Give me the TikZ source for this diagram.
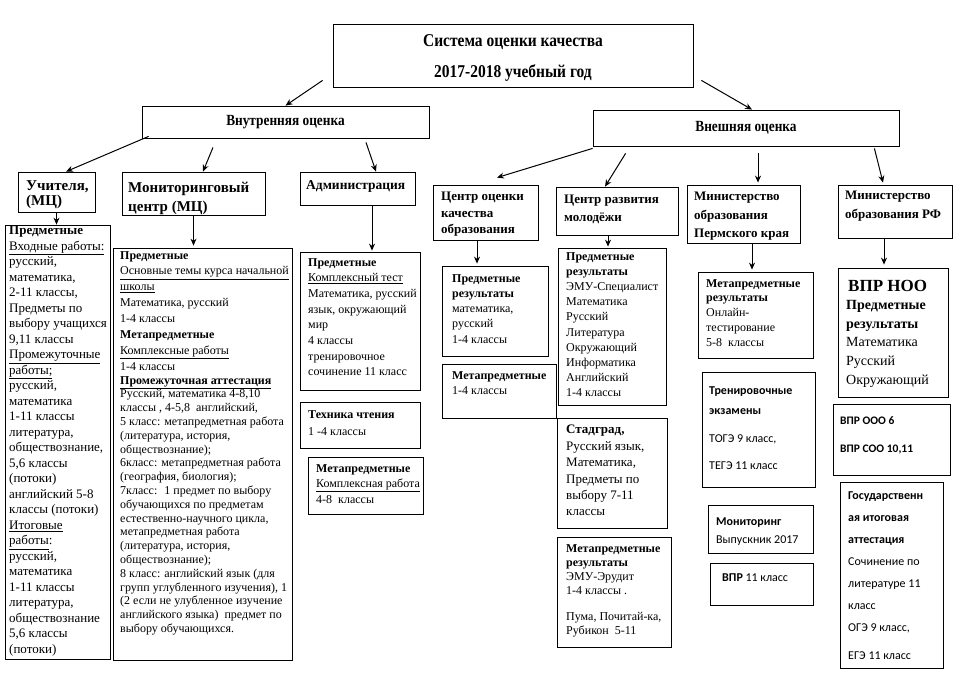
\documentclass[tikz,border=0pt]{standalone}
\usepackage{fontspec}
\setmainfont{Liberation Serif}
\newfontfamily\calib{Carlito}
\newfontfamily\condf[FakeStretch=0.86]{Liberation Serif}
\usetikzlibrary{fit,calc,arrows.meta}
\begin{document}
\begin{tikzpicture}[x=1pt,y=-1pt,
  bx/.style={draw=black,line width=0.8pt,inner sep=0pt},
  tx/.style={anchor=north west,inner sep=0pt,align=left},
  hd/.style={tx,font=\bfseries\fontsize{13}{#1}\selectfont},
  tf/.style={tx,font=\fontsize{12}{#1}\selectfont},
  cf/.style={tx,font=\calib\fontsize{12}{#1}\selectfont},
  arr/.style={-{Stealth[length=7pt,width=6pt]},line width=1pt}]
\useasboundingbox (0,0) rectangle (960,672);
\fill[white] (0,0) rectangle (960,672);
% boxes
\node[bx,fit={(333,24)(693,87)}] (title) {};
\node[bx,fit={(142,106)(429,138)}] (inner) {};
\node[bx,fit={(593,110)(899,146)}] (outer) {};
\node[bx,fit={(18,172)(95,212)}] (teach) {};
\node[bx,fit={(5,225)(110,659)}] (teachb) {};
\node[bx,fit={(122,172)(265,215)}] (mc) {};
\node[bx,fit={(113,248)(292,660)}] (mcb) {};
\node[bx,fit={(300,172)(415,205)}] (adm) {};
\node[bx,fit={(300,252)(420,390)}] (adm1) {};
\node[bx,fit={(300,402)(420,448)}] (adm2) {};
\node[bx,fit={(308,457)(423,514)}] (adm3) {};
\node[bx,fit={(433,185)(538,240)}] (coc) {};
\node[bx,fit={(442,266)(548,356)}] (coc1) {};
\node[bx,fit={(442,364)(556,418)}] (coc2) {};
\node[bx,fit={(556,187)(678,235)}] (crm) {};
\node[bx,fit={(558,248)(666,405)}] (crm1) {};
\node[bx,fit={(557,418)(667,528)}] (crm2) {};
\node[bx,fit={(557,537)(671,647)}] (crm3) {};
\node[bx,fit={(687,185)(800,243)}] (mpk) {};
\node[bx,fit={(698,272)(813,358)}] (mpk1) {};
\node[bx,fit={(702,372)(815,487)}] (mpk2) {};
\node[bx,fit={(708,505)(813,553)}] (mpk3) {};
\node[bx,fit={(710,563)(813,605)}] (mpk4) {};
\node[bx,fit={(838,185)(952,238)}] (mrf) {};
\node[bx,fit={(838,268)(948,397)}] (mrf1) {};
\node[bx,fit={(833,404)(950,475)}] (mrf2) {};
\node[bx,fit={(840,482)(943,668)}] (mrf3) {};
% texts
\node[font=\condf\bfseries\fontsize{18}{20}\selectfont] (tt1) at (513,42) {Система оценки качества};
\node[font=\condf\bfseries\fontsize{18}{20}\selectfont] (tt2) at (513,73) {2017-2018 учебный год};
\node[font=\condf\bfseries\fontsize{15.5}{18}\selectfont] (innert) at (inner.center) {Внутренняя оценка};
\node[font=\condf\bfseries\fontsize{15.5}{18}\selectfont] (outert) at (outer.center) {Внешняя оценка};
\node[tx,font=\bfseries\fontsize{15}{15}\selectfont] (teacht) at (26,180) {Учителя,\\(МЦ)};
\node[tx,font=\fontsize{13}{15.5}\selectfont] (teachbt) at (9,226) {\textbf{Предметные}\\\underline{Входные работы:}\\русский,\\математика,\\2-11 классы,\\Предметы по\\выбору учащихся\\9,11 классы\\\underline{Промежуточные}\\\underline{работы;}\\русский,\\математика\\1-11 классы\\литература,\\обществознание,\\5,6 классы\\(потоки)\\английский 5-8\\классы (потоки)\\\underline{Итоговые}\\\underline{работы}:\\русский,\\математика\\1-11 классы\\литература,\\обществознание\\5,6 классы\\(потоки)};
\node[tx,font=\bfseries\fontsize{15}{19}\selectfont] (mct) at (128,182) {Мониторинговый\\центр (МЦ)};
\node[tf=15.9] (mcbt1) at (120,251) {\textbf{Предметные}\\\underline{Основные темы курса начальной}\\\underline{школы}\\Математика, русский\\1-4 классы\\\textbf{Метапредметные}\\\underline{Комплексные работы}\\1-4 классы};
\node[tf=13.8] (mcbt2) at (120,376) {\textbf{\underline{Промежуточная аттестация}}\\Русский, математика 4-8,10\\классы , 4-5,8 \ английский,\\5 класс: метапредметная работа\\(литература, история,\\обществознание);\\6класс: метапредметная работа\\(география, биология);\\7класс: \ 1 предмет по выбору\\обучающихся по предметам\\естественно-научного цикла,\\метапредметная работа\\(литература, история,\\обществознание);\\8 класс: английский язык (для\\групп углубленного изучения), 1\\(2 если не улубленное изучение\\английского языка) \ предмет по\\выбору обучающихся.};
\node[tx,font=\bfseries\fontsize{13.5}{15}\selectfont] (admt) at (306,180) {Администрация};
\node[tf=15.7] (adm1t) at (308,258) {\textbf{Предметные}\\\underline{Комплексный тест}\\Математика, русский\\язык, окружающий\\мир\\4 классы\\тренировочное\\сочинение 11 класс};
\node[tf=17] (adm2t) at (308,410) {\textbf{Техника чтения}\\1 -4 классы};
\node[tf=15.5] (adm3t) at (316,464) {\textbf{Метапредметные}\\\underline{Комплексная работа}\\4-8 \ классы};
\node[hd=16.5] (coct) at (441,192) {Центр оценки\\качества\\образования};
\node[tf=15.25] (coc1t) at (452,274) {\textbf{Предметные}\\\textbf{результаты}\\математика,\\русский\\1-4 классы};
\node[tf=15] (coc2t) at (452,371) {\textbf{Метапредметные}\\1-4 классы};
\node[hd=18] (crmt) at (564,195) {Центр развития\\молодёжи};
\node[tf=15.2] (crm1t) at (566,252) {\textbf{Предметные}\\\textbf{результаты}\\ЭМУ-Специалист\\Математика\\Русский\\Литература\\Окружающий\\Информатика\\Английский\\1-4 классы};
\node[tx,font=\fontsize{13}{16.4}\selectfont] (crm2t) at (566,425) {\textbf{Стадград,}\\Русский язык,\\Математика,\\Предметы по\\выбору 7-11\\классы};
\node[tf=14.2] (crm3t) at (566,544) {\textbf{Метапредметные}\\\textbf{результаты}\\ЭМУ-Эрудит\\1-4 классы .\\[11.6pt]Пума, Почитай-ка,\\Рубикон \ 5-11};
\node[hd=18.5] (mpkt) at (694,192) {Министерство\\образования\\Пермского края};
\node[tf=14.75] (mpk1t) at (706,279) {\textbf{Метапредметные}\\\textbf{результаты}\\Онлайн-\\тестирование\\5-8 \ классы};
\node[cf=20] (mpk2t) at (709,387) {\textbf{Тренировочные}\\\textbf{экзамены}\\[8pt]ТОГЭ 9 класс,\\[7pt]ТЕГЭ 11 класс};
\node[cf=18] (mpk3t) at (716,518) {\textbf{Мониторинг}\\Выпускник 2017};
\node[cf=18] (mpk4t) at (722,574) {\textbf{ВПР} 11 класс};
\node[hd=19] (mrft) at (845,191) {Министерство\\образования РФ};
\node[tx,font=\bfseries\fontsize{17}{19}\selectfont] (mrf1a) at (848,280) {ВПР НОО};
\node[tx,font=\fontsize{14}{18.7}\selectfont] (mrf1t) at (846,300) {\textbf{Предметные}\\\textbf{результаты}\\Математика\\Русский\\Окружающий};
\node[tx,font=\calib\bfseries\fontsize{11.5}{28}\selectfont] (mrf2t) at (840,416) {ВПР ООО 6\\ВПР СОО 10,11};
\node[cf=22] (mrf3t) at (848,492) {\textbf{Государственн}\\\textbf{ая итоговая}\\\textbf{аттестация}\\Сочинение по\\литературе 11\\класс\\ОГЭ 9 класс,\\[6pt]ЕГЭ 11 класс};
% arrows
\draw[arr] ($(title.south west)+(-10,-7)$) -- (inner.north);
\draw[arr] ($(title.south east)+(8,-7)$) -- ($(outer.north)+(6,0)$);
\draw[arr] ($(inner.south west)+(7,-2)$) -- ($(teach.north)+(9.5,0)$);
\draw[arr] ($(inner.south)+(-72.5,9)$) -- ($(mc.north)+(9.5,0)$);
\draw[arr] ($(inner.south)+(80.5,4)$) -- ($(adm.north)+(18.5,0)$);
\draw[arr] ($(outer.south west)+(0,2)$) -- ($(coc.north)+(11.5,-7)$);
\draw[arr] ($(outer.south west)+(33,7)$) -- ($(crm.north)+(-12,0)$);
\draw[arr] ($(outer.south)+(12,7)$) -- ($(mpk.north)+(14.5,-2)$);
\draw[arr] ($(outer.south east)+(-25,2)$) -- ($(mrf.north)+(-12,-2)$);
\draw[arr] (teach.south) -- ($(teachb.north)+(-1,0)$);
\draw[arr] (mc.south) -- ($(mcb.north)+(-9,-2)$);
\draw[arr] ($(adm.south)+(14.5,0)$) -- ($(adm1.north)+(12,-1)$);
\draw[arr] ($(coc.south)+(-8.5,0)$) -- ($(coc1.north)+(-18,-2)$);
\draw[arr] ($(crm.south)+(-9,0)$) -- ($(crm1.north)+(-4,-1)$);
\draw[arr] ($(mpk.south)+(8.5,0)$) -- ($(mpk1.north)+(-3.5,-2)$);
\draw[arr] ($(mrf.south)+(-11,0)$) -- ($(mrf1.north)+(-9,-3)$);
\end{tikzpicture}
\end{document}
